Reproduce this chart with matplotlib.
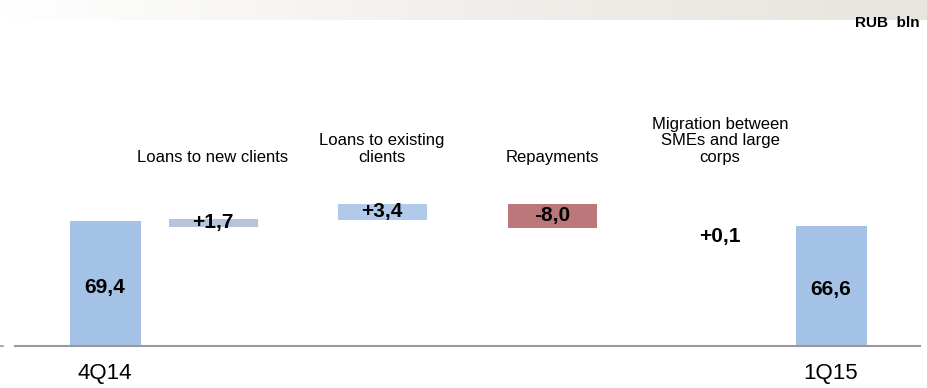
import numpy as np
import matplotlib
matplotlib.use("Agg")
from matplotlib import pyplot as plt
from matplotlib.lines import Line2D

plt.rcParams['font.family'] = ['Liberation Sans', 'DejaVu Sans']

# data (RUB bln)
periods = ["4Q14", "1Q15"]
totals = [69.4, 66.6]
steps = ["Loans to new clients", "Loans to existing\nclients", "Repayments",
         "Migration between\nSMEs and large\ncorps"]
step_labels = ["+1,7", "+3,4", "-8,0", "+0,1"]
# floating bars as drawn in the picture (not to scale)
step_bottoms = [66.1, 70.0, 65.6, 60.6]
step_tops = [70.6, 78.9, 78.9, 60.6]
step_colors = ['#b7c4de', '#b1cae9', '#bb7779', '#b1cae9']

total_pos = [90, 816]
step_pos = [198, 367, 537, 705]
total_color = '#a4c2e6'

fig = plt.figure(figsize=(9.28, 3.88), dpi=100)

# gradient band at the top
band = fig.add_axes([0, 368/388, 1, 20/388])
grad = np.linspace(0, 1, 256).reshape(1, -1)
band.imshow(grad, aspect='auto', cmap=matplotlib.colors.LinearSegmentedColormap.from_list(
    'b', ['#ffffff', '#f1efeb', '#e8e4de']))
band.axis('off')

fig.text(920/928, 1 - 23/388, "RUB  bln", ha='right', va='center',
         fontsize=11, fontweight='bold')

# little leftover tick at the far left
fig.add_artist(Line2D([0, 3/928], [42/388, 42/388], color='#9a9a9a', lw=1.2))

ax = fig.add_axes([15/928, 42/388, 905/928, 326/388])
ax.set_xlim(0, 905)
ax.set_ylim(0, 326/1.8)

ax.bar(total_pos, totals, width=71, color=total_color)
for x, v, lab in zip(total_pos, totals, ["69,4", "66,6"]):
    ax.text(x, v * 0.47, lab, ha='center', va='center', fontsize=15, fontweight='bold')

for x, b, t, c, lab, name in zip(step_pos, step_bottoms, step_tops, step_colors,
                                 step_labels, steps):
    if t > b:
        ax.bar(x, t - b, bottom=b, width=89, color=c)
    ax.text(x, (b + t) / 2, lab, ha='center', va='center', fontsize=15, fontweight='bold')
    ax.text(x, 100.5, name, ha='center', va='bottom', fontsize=12, linespacing=1.15)

ax.set_xticks(total_pos)
ax.set_xticklabels(periods, fontsize=16)
ax.tick_params(axis='x', length=0, pad=12)
ax.set_yticks([])
for s in ['top', 'left', 'right']:
    ax.spines[s].set_visible(False)
ax.spines['bottom'].set_color('#9a9a9a')
ax.spines['bottom'].set_linewidth(1.5)

plt.savefig("out.png", dpi=100)
